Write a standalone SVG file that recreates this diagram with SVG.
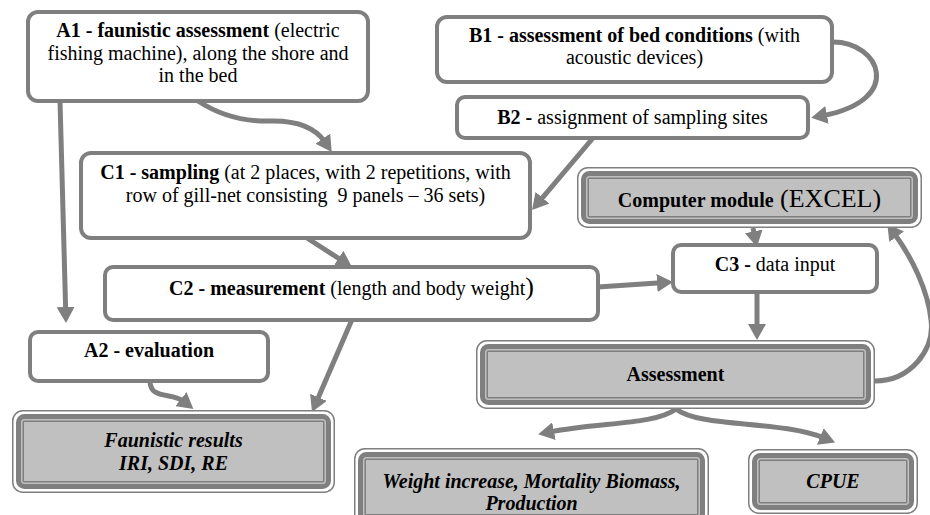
<svg xmlns="http://www.w3.org/2000/svg" width="930" height="515" viewBox="0 0 930 515">
<style>
.box{fill:#fff;stroke:#7f7f7f;stroke-width:4}
.o{fill:#fff;stroke:#7f7f7f;stroke-width:1.5}
.t{fill:#c0c0c0;stroke:#7f7f7f;stroke-width:5}
.i{fill:#c0c0c0;stroke:#7f7f7f;stroke-width:1.5}
text{font-size:20px;fill:#000;text-anchor:middle}
.b{font-weight:bold}
.bi{font-weight:bold;font-style:italic}
.c{fill:none;stroke:#7f7f7f;stroke-width:5;marker-end:url(#ah)}
</style>
<defs>
<marker id="ah" markerUnits="userSpaceOnUse" viewBox="0 0 16 18" refX="4" refY="9" markerWidth="16" markerHeight="18" orient="auto">
<path d="M0,0 L16,9 L0,18 z" fill="#7f7f7f"/>
</marker>
</defs>
<g id="connectors">
<path class="c" d="M60,101 L65.7,311"/>
<path class="c" d="M198,101 Q230,122 270,121 Q310,120 325,142"/>
<path class="c" d="M833,42 C880,42 905,100 823,115.6"/>
<path class="c" d="M593,138 L539.8,200.8"/>
<path class="c" d="M307,238 L341.9,260.5"/>
<path class="c" d="M598,287 L661,282.8"/>
<path class="c" d="M753,228 L754.5,235.3"/>
<path class="c" d="M757,292 L757,328"/>
<path class="c" d="M875,381 C910,381 935,350 931,320 C928,290 912,258 894.3,233.5"/>
<path class="c" d="M676,409 C655,425 600,422 550,432"/>
<path class="c" d="M676,409 C700,428 780,420 824,438"/>
<path class="c" d="M150,381 C150,400 172,392 184,401.6"/>
<path class="c" d="M357,308 L316.8,401"/>
</g>
<g font-family="'Liberation Serif', Tinos, 'Times New Roman', 'DejaVu Serif', serif">
<g id="A1">
<rect class="box" x="28" y="12" width="340" height="89" rx="10"/>
<text x="198" y="37"><tspan class="b">A1 - faunistic assessment</tspan> (electric</text>
<text x="198" y="60">fishing machine), along the shore and</text>
<text x="198" y="82">in the bed</text>
</g>
<g id="B1">
<rect class="box" x="437" y="17" width="395" height="65" rx="10"/>
<text x="634.5" y="42"><tspan class="b">B1 - assessment of bed conditions</tspan> (with</text>
<text x="634.5" y="64">acoustic devices)</text>
</g>
<g id="B2">
<rect class="box" x="457" y="97" width="351" height="41" rx="8"/>
<text x="632.5" y="124"><tspan class="b">B2 -</tspan> assignment of sampling sites</text>
</g>
<g id="C1">
<rect class="box" x="81" y="153" width="449" height="85" rx="10"/>
<text x="305.5" y="179"><tspan class="b">C1 - sampling</tspan> (at 2 places, with 2 repetitions, with</text>
<text x="305.5" y="202" xml:space="preserve">row of gill-net consisting  9 panels – 36 sets)</text>
</g>
<g id="CM">
<rect class="o" x="577.75" y="167.75" width="343.5" height="59.5" rx="10"/>
<rect class="t" x="583.5" y="173.5" width="332" height="48" rx="6"/>
<rect class="i" x="588.25" y="178.25" width="322.5" height="38.5" rx="1"/>
<text x="749.5" y="207"><tspan class="b">Computer module</tspan><tspan font-size="26"> (EXCEL)</tspan></text>
</g>
<g id="C2">
<rect class="box" x="105" y="267" width="493" height="53" rx="8"/>
<text x="351.5" y="295"><tspan class="b">C2 - measurement</tspan> (length and body weight<tspan font-size="26">)</tspan></text>
</g>
<g id="C3">
<rect class="box" x="673" y="245" width="204" height="47" rx="8"/>
<text x="775" y="271"><tspan class="b">C3 -</tspan> data input</text>
</g>
<g id="A2">
<rect class="box" x="30" y="332" width="238" height="49" rx="8"/>
<text class="b" x="149" y="357">A2 - evaluation</text>
</g>
<g id="Assessment">
<rect class="o" x="476.75" y="340.75" width="397.5" height="67.5" rx="10"/>
<rect class="t" x="482.5" y="346.5" width="386" height="56" rx="6"/>
<rect class="i" x="487.25" y="351.25" width="376.5" height="46.5" rx="1"/>
<text class="b" x="675.5" y="381">Assessment</text>
</g>
<g id="Faunistic">
<rect class="o" x="12.75" y="410.75" width="321.5" height="81.5" rx="10"/>
<rect class="t" x="18.5" y="416.5" width="310" height="70" rx="6"/>
<rect class="i" x="23.25" y="421.25" width="300.5" height="60.5" rx="1"/>
<text class="bi" x="173.5" y="447">Faunistic results</text>
<text class="bi" x="173.5" y="470">IRI, SDI, RE</text>
</g>
<g id="Weight">
<rect class="o" x="354.75" y="448.75" width="353.5" height="76.5" rx="10"/>
<rect class="t" x="360.5" y="454.5" width="342" height="65" rx="6"/>
<rect class="i" x="365.25" y="459.25" width="332.5" height="55.5" rx="1"/>
<text class="bi" x="531.5" y="488">Weight increase, Mortality Biomass,</text>
<text class="bi" x="531.5" y="510">Production</text>
</g>
<g id="CPUE">
<rect class="o" x="748.75" y="449.75" width="168.5" height="63.5" rx="10"/>
<rect class="t" x="754.5" y="455.5" width="157" height="52" rx="6"/>
<rect class="i" x="759.25" y="460.25" width="147.5" height="42.5" rx="1"/>
<text class="bi" x="833" y="488">CPUE</text>
</g>
</g>
</svg>
